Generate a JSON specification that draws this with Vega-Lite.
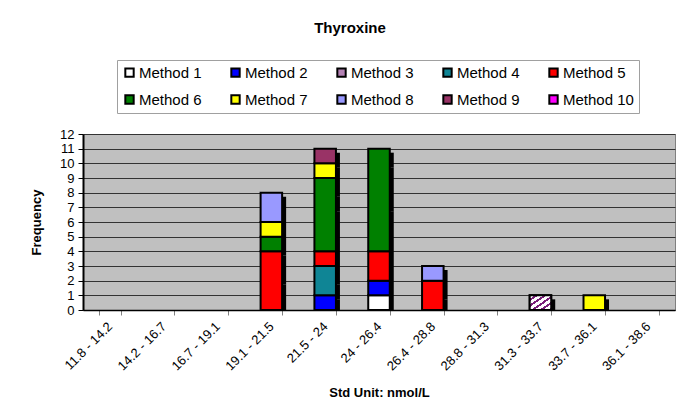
{
  "$schema": "https://vega.github.io/schema/vega-lite/v6.json",
  "width": 592,
  "height": 176,
  "autosize": {"type": "none"},
  "padding": {"left": 83, "top": 134, "right": 13, "bottom": 110},
  "background": "white",
  "title": {"text": "Thyroxine", "fontSize": 15, "font": "Liberation Sans", "fontWeight": "bold", "color": "black", "anchor": "middle", "dx": -29, "offset": 12, "baseline": "alphabetic"},
  "data": {
    "values": [
      {"bin": "19.1 - 21.5", "Method": "Method 5", "count": 4},
      {"bin": "19.1 - 21.5", "Method": "Method 6", "count": 1},
      {"bin": "19.1 - 21.5", "Method": "Method 7", "count": 1},
      {"bin": "19.1 - 21.5", "Method": "Method 8", "count": 2},
      {"bin": "21.5 - 24", "Method": "Method 2", "count": 1},
      {"bin": "21.5 - 24", "Method": "Method 4", "count": 2},
      {"bin": "21.5 - 24", "Method": "Method 5", "count": 1},
      {"bin": "21.5 - 24", "Method": "Method 6", "count": 5},
      {"bin": "21.5 - 24", "Method": "Method 7", "count": 1},
      {"bin": "21.5 - 24", "Method": "Method 9", "count": 1},
      {"bin": "24 - 26.4", "Method": "Method 1", "count": 1},
      {"bin": "24 - 26.4", "Method": "Method 2", "count": 1},
      {"bin": "24 - 26.4", "Method": "Method 5", "count": 2},
      {"bin": "24 - 26.4", "Method": "Method 6", "count": 7},
      {"bin": "26.4 - 28.8", "Method": "Method 5", "count": 2},
      {"bin": "26.4 - 28.8", "Method": "Method 8", "count": 1},
      {"bin": "31.3 - 33.7", "Method": "Method 3", "count": 1},
      {"bin": "33.7 - 36.1", "Method": "Method 7", "count": 1}
    ]
  },
  "encoding": {
    "x": {
      "field": "bin",
      "type": "nominal",
      "title": "Std Unit: nmol/L",
      "sort": null,
      "scale": {
        "domain": ["11.8 - 14.2", "14.2 - 16.7", "16.7 - 19.1", "19.1 - 21.5", "21.5 - 24", "24 - 26.4", "26.4 - 28.8", "28.8 - 31.3", "31.3 - 33.7", "33.7 - 36.1", "36.1 - 38.6"],
        "paddingInner": 0.6,
        "paddingOuter": 0.3
      }
    },
    "y": {
      "field": "count",
      "type": "quantitative",
      "title": "Frequency",
      "scale": {"domain": [0, 12], "nice": false},
      "axis": {"values": [0, 1, 2, 3, 4, 5, 6, 7, 8, 9, 10, 11, 12]}
    }
  },
  "layer": [
    {
      "mark": {"type": "bar", "color": "black", "xOffset": 4, "yOffset": 4, "clip": true},
      "encoding": {"detail": {"field": "Method"}}
    },
    {
      "mark": {"type": "bar", "stroke": "black", "strokeWidth": 2},
      "encoding": {
        "color": {
          "field": "Method",
          "type": "nominal",
          "scale": {
            "domain": ["Method 1", "Method 2", "Method 3", "Method 4", "Method 5", "Method 6", "Method 7", "Method 8", "Method 9", "Method 10"],
            "range": ["#ffffff", "#0000ff", "#b482b4", "#0f8595", "#ff0000", "#008000", "#ffff00", "#9999ff", "#993366", "#ff00ff"]
          },
          "legend": {"title": null}
        },
        "order": {"field": "Method"}
      }
    },
    {
      "transform": [{"filter": "datum.Method === 'Method 3'"}],
      "mark": {
        "type": "bar",
        "stroke": "black",
        "strokeWidth": 2,
        "fill": {
          "gradient": "linear",
          "x1": 0, "y1": 0, "x2": 1, "y2": 1,
          "stops": [
            {"offset": 0, "color": "#ffffff"},
            {"offset": 0.12, "color": "#ffffff"},
            {"offset": 0.12, "color": "#7a1f7a"},
            {"offset": 0.2, "color": "#7a1f7a"},
            {"offset": 0.2, "color": "#ffffff"},
            {"offset": 0.32, "color": "#ffffff"},
            {"offset": 0.32, "color": "#7a1f7a"},
            {"offset": 0.4, "color": "#7a1f7a"},
            {"offset": 0.4, "color": "#ffffff"},
            {"offset": 0.52, "color": "#ffffff"},
            {"offset": 0.52, "color": "#7a1f7a"},
            {"offset": 0.6, "color": "#7a1f7a"},
            {"offset": 0.6, "color": "#ffffff"},
            {"offset": 0.72, "color": "#ffffff"},
            {"offset": 0.72, "color": "#7a1f7a"},
            {"offset": 0.8, "color": "#7a1f7a"},
            {"offset": 0.8, "color": "#ffffff"},
            {"offset": 0.92, "color": "#ffffff"},
            {"offset": 0.92, "color": "#7a1f7a"},
            {"offset": 1, "color": "#7a1f7a"}
          ]
        }
      }
    }
  ],
  "config": {
    "font": "Liberation Sans",
    "view": {"fill": "#c0c0c0", "stroke": "#808080"},
    "axis": {
      "labelFont": "Liberation Sans",
      "titleFont": "Liberation Sans",
      "labelColor": "black",
      "titleColor": "black",
      "labelFontSize": 13,
      "titleFontSize": 13,
      "titleFontWeight": "bold",
      "domainColor": "black",
      "tickColor": "#808080"
    },
    "axisY": {
      "grid": true,
      "gridColor": "#333333",
      "gridOpacity": 1,
      "gridWidth": 1,
      "domainWidth": 2,
      "tickSize": 5,
      "tickColor": "black",
      "labelPadding": 4,
      "titlePadding": 16
    },
    "axisX": {
      "grid": false,
      "labelAngle": -45,
      "labelAlign": "right",
      "labelBaseline": "middle",
      "tickBand": "extent",
      "tickSize": 5,
      "labelPadding": 9,
      "titlePadding": 14,
      "domainWidth": 1.5
    },
    "legend": {
      "orient": "none",
      "legendX": 34,
      "legendY": -74,
      "direction": "horizontal",
      "columns": 5,
      "gridAlign": "all",
      "symbolType": "square",
      "symbolSize": 70,
      "symbolStrokeColor": "black",
      "symbolStrokeWidth": 2,
      "labelFont": "Liberation Sans",
      "labelFontSize": 15,
      "labelColor": "black",
      "labelOffset": 2,
      "columnPadding": 17,
      "rowPadding": 10,
      "padding": 5,
      "strokeColor": "#a0a0a0",
      "fillColor": "white"
    }
  }
}
